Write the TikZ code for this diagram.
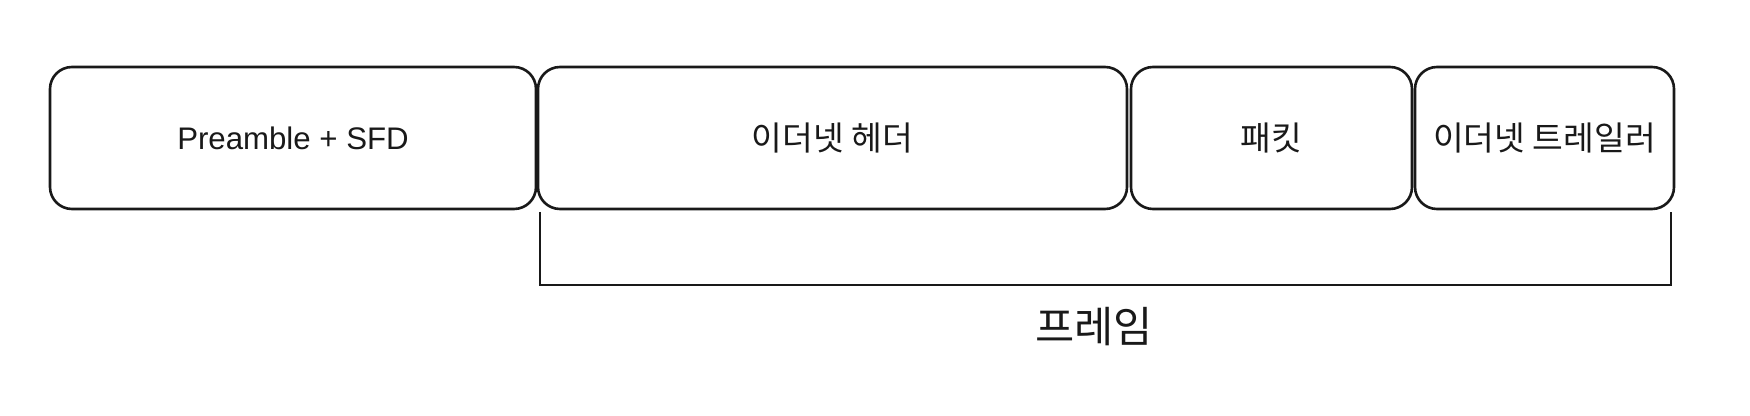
\documentclass[tikz,border=0pt]{standalone}
\usepackage{fontspec}
\setmainfont{Liberation Sans}
\newfontfamily\kofont{Noto Sans CJK KR}
\newcommand{\kotext}{\kofont\fontsize{16.7}{20}\selectfont}
\begin{document}
\begin{tikzpicture}[x=0.5pt,y=-0.5pt,
  blk/.style={draw=black!90, line width=1.3pt, rounded corners=11pt, minimum height=71pt, inner sep=0pt, font=\fontsize{15.6}{18}\selectfont, text=black!90},
  brk/.style={draw=black!90, line width=1.2pt},
  lbl/.style={font=\kofont\fontsize{21.3}{25}\selectfont, text=black!90, inner sep=0pt}]
\useasboundingbox (0,0) rectangle (1750,416);
\node[blk, minimum width=243pt] (pre) at (293,138) {Preamble + SFD};
\node[blk, minimum width=294.5pt] (hdr) at (832.5,138) {\kotext 이더넷 헤더};
\node[blk, minimum width=140.5pt] (pkt) at (1271.5,138) {\kotext 패킷};
\node[blk, minimum width=129.5pt] (trl) at (1544.5,138) {\kotext 이더넷 트레일러};
\coordinate (bl) at (540,212);
\coordinate (br) at (1671,212);
\coordinate (bbl) at (540,285);
\coordinate (bbr) at (1671,285);
\draw[brk] (bl) -- (bbl) -- (bbr) -- (br);
\node[lbl] (frame) at (1094,327) {프레임};
\end{tikzpicture}
\end{document}
